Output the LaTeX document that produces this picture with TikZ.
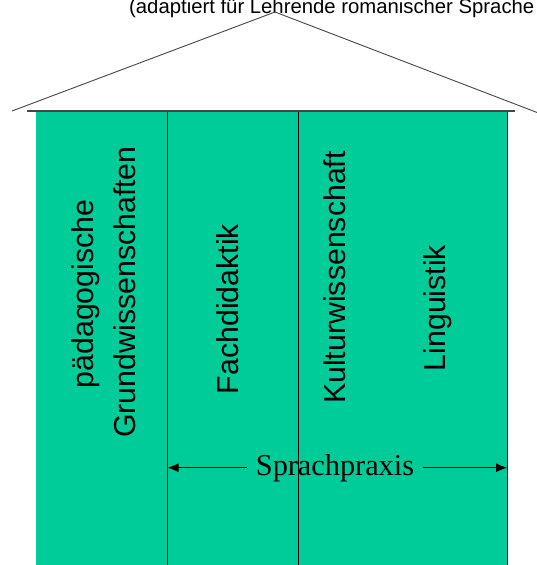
\documentclass[tikz,border=0pt]{standalone}
\usepackage{fontspec}
\setmainfont{Liberation Serif}
\newfontfamily\arialf{Liberation Sans}
\usetikzlibrary{arrows.meta}
\definecolor{housegreen}{RGB}{0,204,153}
\definecolor{roofgray}{RGB}{70,70,70}
\tikzset{
  pillartext/.style={rotate=90, anchor=base, inner sep=0pt,
    font=\arialf\fontsize{30.3}{36}\selectfont},
  roofline/.style={draw=roofgray, line width=0.9pt},
  divider/.style={draw=black, line width=0.8pt},
  spanarrow/.style={draw=black, line width=0.8pt, -{Latex[length=11pt,width=9pt]}}
}
\begin{document}
\begin{tikzpicture}[x=1pt, y=-1pt]
  \clip (0,0) rectangle (537,565);
  \fill[white] (0,0) rectangle (537,565);

  % title line (cut by the page edge)
  \node[anchor=base west, inner sep=0pt, font=\arialf\fontsize{20.3}{24}\selectfont]
    (title) at (129,13) {(adaptiert für Lehrende romanischer Sprache};

  % roof
  \coordinate (apex) at (275,12);
  \coordinate (eaveL) at (12,111);
  \coordinate (eaveR) at (541,114);
  \draw[roofline] (eaveL) -- (apex) -- (eaveR);

  % building body
  \coordinate (bodyNW) at (35.5,112);
  \coordinate (bodySE) at (507,565);
  \fill[housegreen] (bodyNW) rectangle (bodySE);
  \coordinate (beamL) at (27,111);
  \coordinate (beamR) at (515,111);
  \draw[draw=roofgray, line width=1.3pt] (beamL) -- (beamR);

  % pillar dividers and right wall
  \coordinate (d1top) at (167.5,112);
  \coordinate (d1bot) at (167.5,565);
  \coordinate (d2top) at (298.5,112);
  \coordinate (d2bot) at (298.5,565);
  \coordinate (d3top) at (507,112);
  \coordinate (d3bot) at (507,565);
  \draw[divider] (d1top) -- (d1bot);
  \draw[divider] (d2top) -- (d2bot);
  \draw[divider] (d3top) -- (d3bot);

  % pillar labels
  \node[pillartext] (paed) at (93.5,294) {pädagogische};
  \node[pillartext] (grund) at (135,292) {Grundwissenschaften};
  \node[pillartext] (fach) at (238,309) {Fachdidaktik};
  \node[pillartext] (kultur) at (345,277.5) {Kulturwissenschaft};
  \node[pillartext] (ling) at (445,308) {Linguistik};

  % language practice spanning the right pillars
  \node[anchor=base, inner xsep=9pt, inner ysep=0pt,
        font=\fontsize{30.3}{36}\selectfont] (praxis) at (335,475) {Sprachpraxis};
  \draw[spanarrow] (praxis.west) -- (praxis.west -| d1top);
  \draw[spanarrow] (praxis.east) -- (praxis.east -| d3top);
\end{tikzpicture}
\end{document}
